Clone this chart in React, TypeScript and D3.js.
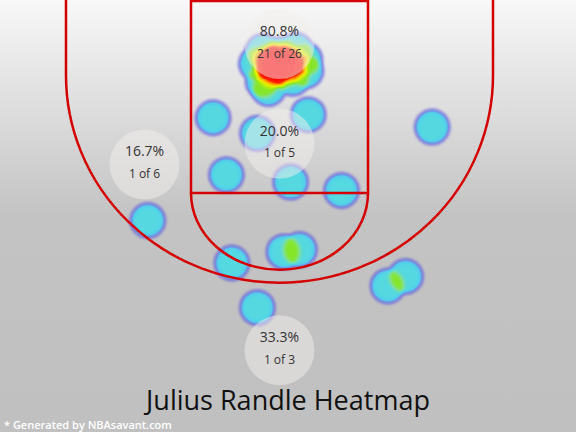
import React from 'react';
import * as d3 from 'd3';

const W = 576;
const H = 432;

// shot locations in court units (tenths of feet, hoop at 0,0)
const RA_SHOTS: [number, number][] = [
  [-7, 10], [-2, 12], [2, 14], [1, 9], [-5, 17], [7, 12], [-1, 19], [5, 20], [-9, 14],
  [-3, 6], [9, 16], [2, 4], [-6, 21], [-11, 10], [11, 10], [-1, 14], [3, 12], [-4, 13],
  [23, 9], [24, 20], [-10, 37], [-15, 30], [-15, 1], [-21, 13], [12, 27], [15, 0],
];
const PAINT_SHOTS: [number, number][] = [[-60, 65], [-20, 80], [26, 62], [-48, 120], [10, 127]];
const MID_SHOTS: [number, number][] = [[56, 135], [138, 74], [-119, 164], [-43, 205], [4, 194], [18, 192]];
const THREE_SHOTS: [number, number][] = [[-20, 248], [98, 227], [114, 218]];

// zone summaries
const ZONES = ['Restricted Area', 'In The Paint (Non-RA)', 'Mid-Range', '3PT'];
const ZONE_MADE = [21, 1, 1, 1];
const ZONE_ATT = [26, 5, 6, 3];
const ZONE_LOC: [number, number][] = [[0, -6], [0, 90], [-122, 110], [0, 289]];

// court geometry (same units)
const BASELINE = -47.5;
const PAINT_HALF = 80;
const FT_LINE = 137.5;
const FT_RY = 74;
const CORNER_X = 193;
const ARC_Y = 24;
const ARC_RY = 200;

const HEAT_STOPS = [0, 0.06, 0.14, 0.24, 0.34, 0.46, 0.58, 0.72, 0.82, 0.9, 1];
const HEAT_COLORS = ['#4646dc', '#5a5ae0', '#6a80e6', '#58c8ea', '#52d8e6', '#7ee0a0', '#86e626', '#e8f400', '#ffa000', '#ff1e00', '#ff0000'];

const x = d3.scaleLinear().domain([-PAINT_HALF, PAINT_HALF]).range([191, 368]);
const y = d3.scaleLinear().domain([BASELINE, FT_LINE]).range([1, 193]);

const colorScale = d3.scaleLinear<string>().domain(HEAT_STOPS).range(HEAT_COLORS).interpolate(d3.interpolateRgb);
const alphaScale = d3.scaleLinear().domain([0, 0.04, 0.12, 0.2, 1]).range([0, 0.35, 0.75, 1, 1]).clamp(true);

const samples = d3.range(0, 1.0001, 0.01);
const tables = { r: [] as number[], g: [] as number[], b: [] as number[], a: [] as number[] };
samples.forEach(t => {
  const c = d3.rgb(colorScale(t));
  tables.r.push(+(c.r / 255).toFixed(3));
  tables.g.push(+(c.g / 255).toFixed(3));
  tables.b.push(+(c.b / 255).toFixed(3));
  tables.a.push(+alphaScale(t).toFixed(3));
});

const allShots = [...RA_SHOTS, ...PAINT_SHOTS, ...MID_SHOTS, ...THREE_SHOTS];

export default function App() {
  const sx = (v: number) => x(v) - x(0);
  const sy = (v: number) => y(v) - y(0);

  const paint = `M${x(-PAINT_HALF)},${y(BASELINE)}H${x(PAINT_HALF)}V${y(FT_LINE)}H${x(-PAINT_HALF)}Z`;
  const ftArc = `M${x(-PAINT_HALF)},${y(FT_LINE)}A${sx(PAINT_HALF)},${sy(FT_RY)} 0 0 0 ${x(PAINT_HALF)},${y(FT_LINE)}`;
  const three = `M${x(-CORNER_X)},${y(BASELINE) - 4}V${y(ARC_Y)}A${sx(CORNER_X)},${sy(ARC_RY)} 0 0 0 ${x(CORNER_X)},${y(ARC_Y)}V${y(BASELINE) - 4}`;

  return (
    <svg width={W} height={H} style={{ position: 'absolute', left: 0, top: 0, display: 'block' }}>
      <defs>
        <linearGradient id="bg" x1="0" y1="0" x2="0" y2="1">
          <stop offset="0" stopColor="#f8f8f8" />
          <stop offset="0.5" stopColor="#c3c3c3" />
          <stop offset="1" stopColor="#c0c0c0" />
        </linearGradient>
        <filter id="heat" filterUnits="userSpaceOnUse" x="0" y="0" width={W} height={H} colorInterpolationFilters="sRGB">
          <feGaussianBlur stdDeviation="2" />
          <feColorMatrix type="matrix" values="0 0 0 1 0  0 0 0 1 0  0 0 0 1 0  0 0 0 1 0" />
          <feComponentTransfer>
            <feFuncR type="table" tableValues={tables.r.join(' ')} />
            <feFuncG type="table" tableValues={tables.g.join(' ')} />
            <feFuncB type="table" tableValues={tables.b.join(' ')} />
            <feFuncA type="table" tableValues={tables.a.join(' ')} />
          </feComponentTransfer>
        </filter>
      </defs>
      <rect width={W} height={H} fill="url(#bg)" />

      <g filter="url(#heat)">
        {allShots.map((d, i) => (
          <circle key={i} cx={x(d[0])} cy={y(d[1])} r={16} fill="#000" fillOpacity={0.35} />
        ))}
      </g>

      <g fill="none" stroke="#d40000" strokeWidth={2.5}>
        <path d={paint} />
        <path d={ftArc} />
        <path d={three} />
      </g>

      {ZONES.map((z, i) => {
        const cx = x(ZONE_LOC[i][0]);
        const cy = y(ZONE_LOC[i][1]);
        const pct = (ZONE_MADE[i] / ZONE_ATT[i]) * 100;
        return (
          <g key={z}>
            <circle cx={cx} cy={cy} r={35} fill="#f3eeee" fillOpacity={0.5} />
            <text x={cx} y={cy - 8} textAnchor="middle" fontFamily="'Open Sans', sans-serif" fontSize={14} fill="#333">
              {pct.toFixed(1)}%
            </text>
            <text x={cx} y={cy + 13.5} textAnchor="middle" fontFamily="'Open Sans', sans-serif" fontSize={12} fill="#333">
              {ZONE_MADE[i]} of {ZONE_ATT[i]}
            </text>
          </g>
        );
      })}

      <text x={288} y={410} textAnchor="middle" fontFamily="'Open Sans', sans-serif" fontSize={27} fill="#111">
        Julius Randle Heatmap
      </text>
      <text x={4} y={429} fontFamily="'Open Sans', sans-serif" fontSize={11} fontWeight={600} fill="#fff">
        * Generated by NBAsavant.com
      </text>
    </svg>
  );
}
